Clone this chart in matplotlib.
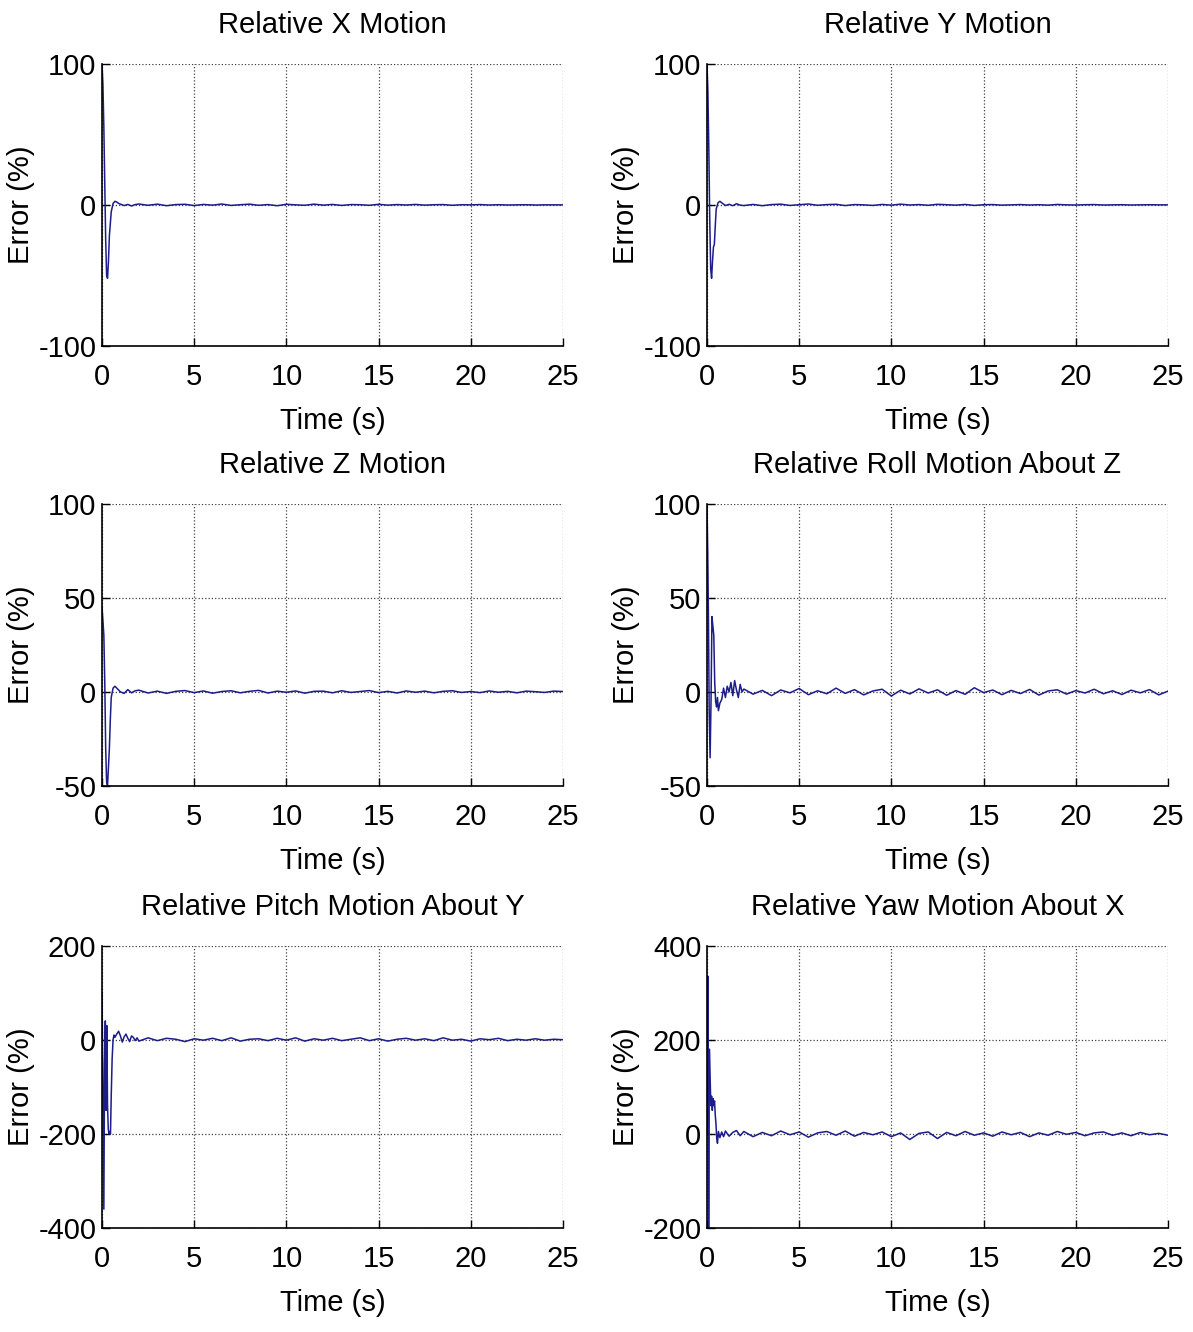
import matplotlib
matplotlib.use("Agg")
import matplotlib.pyplot as plt
from matplotlib import font_manager

names = {f.name for f in font_manager.fontManager.ttflist}
fam = [n for n in ["Liberation Sans Narrow", "Liberation Sans", "DejaVu Sans"] if n in names]
plt.rcParams['font.family'] = fam
plt.rcParams['axes.unicode_minus'] = False

# ---------------- data ----------------
titles = ["Relative X Motion", "Relative Y Motion", "Relative Z Motion",
          "Relative Roll Motion About Z", "Relative Pitch Motion About Y",
          "Relative Yaw Motion About X"]
ylims = [(-100, 100), (-100, 100), (-50, 100), (-50, 100), (-400, 200), (-200, 400)]
yticks = [[-100, 0, 100], [-100, 0, 100], [-50, 0, 50, 100], [-50, 0, 50, 100],
          [-400, -200, 0, 200], [-200, 0, 200, 400]]
xticks = [0, 5, 10, 15, 20, 25]

t_steady = [2.0, 2.5, 3.0, 3.5, 4.0, 4.5, 5.0, 5.5, 6.0, 6.5, 7.0, 7.5, 8.0, 8.5, 9.0, 9.5,
            10.0, 10.5, 11.0, 11.5, 12.0, 12.5, 13.0, 13.5, 14.0, 14.5, 15.0, 15.5, 16.0,
            16.5, 17.0, 17.5, 18.0, 18.5, 19.0, 19.5, 20.0, 20.5, 21.0, 21.5, 22.0, 22.5,
            23.0, 23.5, 24.0, 24.5, 25.0]

# X
x_t = [0, 0.05, 0.1, 0.15, 0.2, 0.25, 0.3, 0.35, 0.4, 0.5, 0.6, 0.7, 0.8, 0.9, 1.0, 1.2, 1.4, 1.6, 1.8]
x_v = [100, 85, 55, 15, -25, -50, -52, -40, -22, -5, 1, 2.5, 2, 1, 0.5, -0.5, 0.3, -0.8, 0.2]
x_s = [0.6, -0.3, 0.5, -0.6, 0.2, 0.4, -0.5, 0.3, -0.2, 0.6,
       -0.4, 0.1, 0.5, -0.3, 0.2, -0.6, 0.4, 0.0, -0.3, 0.5,
       -0.2, 0.3, -0.4, 0.2, 0.1, -0.3, 0.4, -0.2, 0.2, -0.1,
       0.3, -0.2, 0.1, 0.2, -0.3, 0.1, 0.0, 0.2, -0.1, 0.1,
       -0.1, 0.0, 0.1, -0.1, 0.0, 0.0, 0.0]
# Y
y_t = [0, 0.05, 0.1, 0.15, 0.2, 0.25, 0.3, 0.35, 0.4, 0.45, 0.5, 0.6, 0.7, 0.8, 0.9, 1.0, 1.2, 1.4, 1.6, 1.8]
y_v = [100, 80, 40, -10, -45, -52, -40, -30, -28, -15, -3, 1.5, 2.5, 1.5, 0.5, -0.5, 0.4, -0.6, 0.8, -0.2]
y_s = [-0.5, 0.3, -0.6, 0.2, 0.5, -0.4, 0.1, 0.6, -0.3, 0.2,
       0.4, -0.5, 0.2, 0.0, -0.4, 0.3, -0.2, 0.5, -0.1, 0.2,
       -0.3, 0.4, 0.1, -0.2, 0.3, -0.4, 0.1, 0.2, -0.2, 0.0,
       0.2, -0.1, 0.1, -0.2, 0.3, 0.0, -0.1, 0.1, 0.2, -0.1,
       0.0, 0.1, -0.1, 0.0, 0.1, 0.0, 0.0]
# Z
z_t = [0, 0.05, 0.1, 0.15, 0.2, 0.25, 0.3, 0.35, 0.4, 0.45, 0.5, 0.6, 0.7, 0.8, 0.9, 1.0, 1.2, 1.4, 1.6, 1.8]
z_v = [45, 38, 30, 5, -30, -48, -50, -40, -30, -15, -3, 2, 3, 2, 1, 0, -0.8, 1.2, -0.5, 0.6]
z_s = [0.9, -0.6, 0.4, -0.8, 0.3, 0.7, -0.4, 0.5, -0.7, 0.2,
       0.6, -0.5, 0.3, 0.8, -0.6, 0.4, -0.2, 0.5, -0.7, 0.3,
       0.4, -0.5, 0.6, -0.3, 0.2, 0.7, -0.4, 0.3, -0.6, 0.5,
       -0.2, 0.4, -0.5, 0.3, 0.6, -0.3, 0.2, -0.4, 0.5, -0.2,
       0.3, -0.5, 0.4, 0.1, -0.3, 0.4, 0.2]
# Roll
r_t = [0, 0.04, 0.08, 0.12, 0.17, 0.22, 0.27, 0.32, 0.37, 0.42, 0.47, 0.52, 0.57, 0.62, 0.7, 0.8,
       0.9, 1.0, 1.1, 1.2, 1.3, 1.4, 1.5, 1.6, 1.7, 1.8, 1.9]
r_v = [100, 75, 40, -10, -35, -5, 40, 35, 30, 5, -5, -8, -3, -10, -6, -4,
       2, -3, 3, 0, 5, -2, 6, 1, -3, 4, 0]
r_s = [1.5, -1.2, 0.8, -2.0, 1.0, -0.5, 1.8, -1.5, 0.6, -1.0,
       2.0, -0.8, 1.2, -1.6, 0.5, 1.4, -2.2, 0.9, -1.1, 1.6,
       -0.6, 1.1, -1.8, 0.7, -1.3, 2.2, -0.4, 1.0, -1.5, 0.8,
       -0.9, 1.3, -1.7, 0.5, 1.1, -1.2, 0.7, -0.6, 1.4, -1.0,
       0.6, -1.4, 0.9, -0.5, 1.2, -1.6, 0.4]
# Pitch
p_t = [0, 0.05, 0.1, 0.14, 0.18, 0.22, 0.26, 0.3, 0.34, 0.38, 0.42, 0.46, 0.5, 0.55, 0.6,
       0.65, 0.7, 0.8, 0.9, 1.0, 1.1, 1.2, 1.3, 1.4, 1.5, 1.6, 1.7, 1.8, 1.9]
p_v = [100, -100, -360, -50, 40, -150, 30, -140, -190, -200, -195, -200, -120, -40, 0,
       10, 5, 12, 18, 8, -5, 6, 12, 3, -4, 8, 5, -2, 4]
p_s = [-3, 4, -2, 3, 1, -4, 2, -1, 3, -2,
       4, -3, 1, 2, -2, 3, -1, 4, -3, 2,
       -1, 3, -2, 1, 4, -2, 2, -3, 1, 3,
       -1, 2, -2, 4, -1, 1, -3, 2, 0, 3,
       -2, 1, -1, 2, -1, 1, 0]
# Yaw
w_t = [0, 0.05, 0.09, 0.13, 0.17, 0.21, 0.25, 0.29, 0.33, 0.37, 0.41, 0.45, 0.49, 0.53, 0.57,
       0.62, 0.7, 0.8, 0.9, 1.0, 1.2, 1.4, 1.6, 1.8]
w_v = [0, 335, -200, 180, 120, 60, 80, 50, 75, 60, 70, 40, 20, -10, -20,
       5, -8, 4, -6, 6, -5, 3, 7, -4]
w_s = [5, -6, 3, -4, 6, -2, 4, -7, 2, 5,
       -3, 6, -5, 3, -2, 4, -6, 2, -12, 1,
       4, -10, 3, -4, 5, -3, 2, -5, 4, -2,
       3, -6, 2, -3, 5, -1, 3, -4, 2, 4,
       -3, 2, -4, 3, -2, 1, -3]

series = [(x_t, x_v, x_s), (y_t, y_v, y_s), (z_t, z_v, z_s),
          (r_t, r_v, r_s), (p_t, p_v, p_s), (w_t, w_v, w_s)]

# ---------------- figure ----------------
fig = plt.figure(figsize=(11.93, 13.32), dpi=100)
lefts = [0.0855, 0.5926]
bottoms = [0.7402, 0.4099, 0.0781]
w, h = 0.3864, 0.2120
line_color = '#1c1c8a'
fs = 21

for i, (tt, vv, ss) in enumerate(series):
    row, col = divmod(i, 2)
    ax = fig.add_axes([lefts[col], bottoms[row], w, h])
    ax.plot(list(tt) + t_steady, list(vv) + ss, color=line_color, lw=1.1)
    ax.set_xlim(0, 25)
    ax.set_ylim(*ylims[i])
    ax.set_xticks(xticks)
    ax.set_yticks(yticks[i])
    ax.grid(True, linestyle=':', color='black', linewidth=0.9, alpha=0.75)
    for s in ['top', 'right']:
        ax.spines[s].set_visible(False)
    for s in ['left', 'bottom']:
        ax.spines[s].set_linewidth(1.2)
    ax.tick_params(axis='x', direction='in', length=6, width=1, labelsize=fs, pad=12)
    ax.tick_params(axis='y', direction='in', length=6, width=1, labelsize=fs, pad=4)
    ax.set_title(titles[i], fontsize=fs, pad=22)
    ax.set_xlabel("Time (s)", fontsize=fs, labelpad=12)
    ax.set_ylabel("Error (%)", fontsize=fs)
    ax.yaxis.set_label_coords(-0.145, 0.5)

fig.savefig("out.png", dpi=100, facecolor='white')
